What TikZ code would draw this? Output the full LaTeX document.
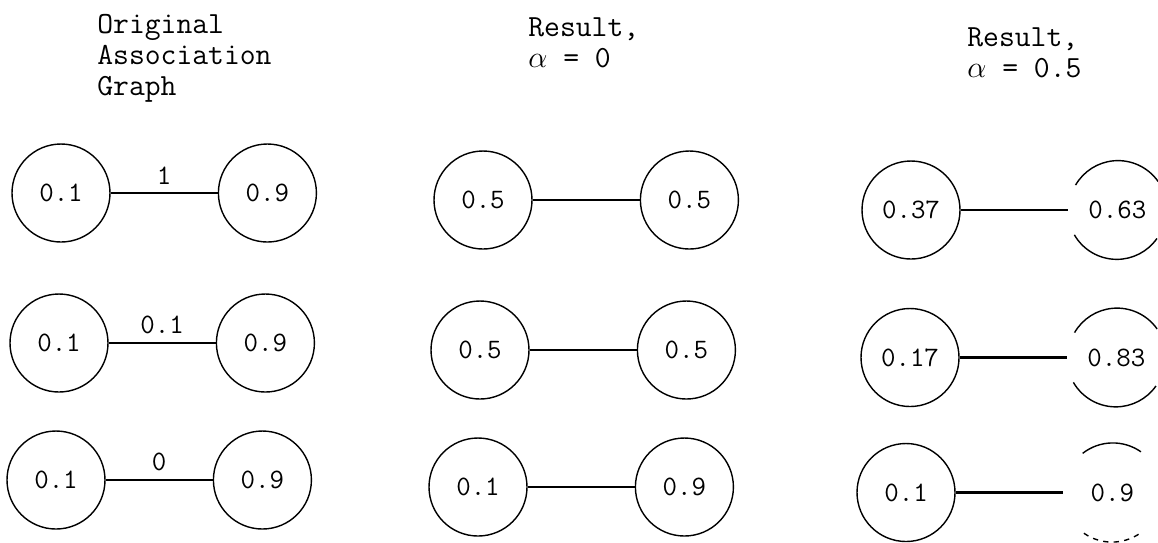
\documentclass[tikz,border=0pt]{standalone}
\usepackage{fontspec}
\usepackage{tikz}
\usetikzlibrary{positioning}

\begin{document}
\begin{tikzpicture}[
    node distance=2.14cm,
    vert/.style={circle, draw, line width=0.8pt, minimum size=1.96cm, inner sep=0pt, font=\ttfamily\fontsize{16}{18}\selectfont},
    cutvert/.style={vert, draw=none},
    arcline/.style={line width=0.8pt},
    link/.style={line width=1.3pt},
    weight/.style={midway, above=1pt, font=\ttfamily\fontsize{16}{18}\selectfont},
    head/.style={anchor=north west, align=left, inner sep=0pt, font=\ttfamily\fontsize{17.5}{17.6}\selectfont}
]
\useasboundingbox (0,0) rectangle (23.16,-10.84);

% Column headings
\node[head] (headA) at (1.94,-0.28) {Original\\Association\\Graph};
\node[head] (headB) at (10.56,-0.34) {Result,\\$\alpha$ = 0};
\node[head] (headC) at (19.34,-0.54) {Result,\\$\alpha$ = 0.5};

% Original association graph
\node[vert] (origL1) at (1.22,-3.86) {0.1};
\node[vert, right=of origL1] (origR1) {0.9};
\node[vert] (origL2) at (1.18,-6.86) {0.1};
\node[vert, right=of origL2] (origR2) {0.9};
\node[vert] (origL3) at (1.12,-9.60) {0.1};
\node[vert, right=of origL3] (origR3) {0.9};

\draw[link] (origL1) -- node[weight] {1} (origR1);
\draw[link] (origL2) -- node[weight] {0.1} (origR2);
\draw[link] (origL3) -- node[weight] {0} (origR3);

% Result, alpha = 0
\node[vert] (zeroL1) at (9.66,-4.00) {0.5};
\node[vert, right=of zeroL1] (zeroR1) {0.5};
\node[vert] (zeroL2) at (9.60,-7.00) {0.5};
\node[vert, right=of zeroL2] (zeroR2) {0.5};
\node[vert] (zeroL3) at (9.56,-9.74) {0.1};
\node[vert, right=of zeroL3] (zeroR3) {0.9};

\draw[link] (zeroL1) -- (zeroR1);
\draw[link] (zeroL2) -- (zeroR2);
\draw[link] (zeroL3) -- (zeroR3);

% Result, alpha = 0.5
\node[vert] (halfL1) at (18.22,-4.20) {0.37};
\node[cutvert, right=of halfL1] (halfR1) {0.63};
\node[vert] (halfL2) at (18.20,-7.15) {0.17};
\node[cutvert, right=of halfL2] (halfR2) {0.83};
\node[vert] (halfL3) at (18.12,-9.85) {0.1};
\node[cutvert, right=of halfL3] (halfR3) {0.9};

\draw[link] (halfL1) -- (halfR1);
\draw[link] (halfL2) -- (halfR2);
\draw[link] (halfL3) -- (halfR3);

% only the top and bottom of the right-hand circles show
\draw[arcline] (halfR1.35) arc[start angle=35, end angle=150, radius=0.98cm];
\draw[arcline] (halfR1.210) arc[start angle=210, end angle=325, radius=0.98cm];
\draw[arcline] (halfR2.35) arc[start angle=35, end angle=150, radius=0.98cm];
\draw[arcline] (halfR2.210) arc[start angle=210, end angle=325, radius=0.98cm];
\draw[arcline] (halfR3.55) arc[start angle=55, end angle=128, radius=0.98cm];
\draw[arcline, dashed] (halfR3.235) arc[start angle=235, end angle=305, radius=0.98cm];

\end{tikzpicture}
\end{document}
